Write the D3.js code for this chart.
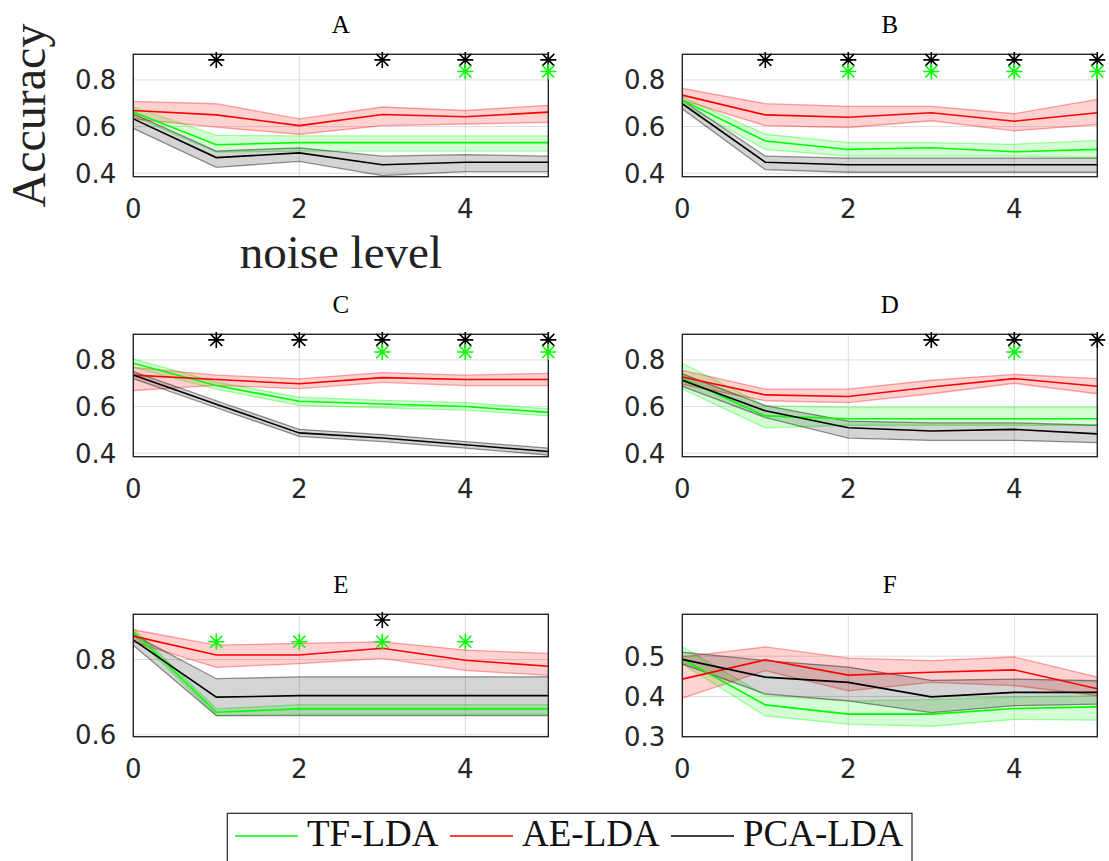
<!DOCTYPE html>
<html>
<head>
<meta charset="utf-8">
<script src="https://cdn.jsdelivr.net/npm/d3@7"></script>
<style>
  html, body { margin: 0; padding: 0; background: #fff; }
  svg { display: block; }
</style>
</head>
<body>
<svg id="chart" width="1109" height="861"></svg>
<script>
// ---------------- DATA ----------------
const noiseLevels = [0, 1, 2, 3, 4, 5];
const panelTitles = ["A", "B", "C", "D", "E", "F"];
const seriesNames = ["TF-LDA", "AE-LDA", "PCA-LDA"];
const xTicks = [0, 2, 4];
const yDomains = [[0.385, 0.91], [0.385, 0.91], [0.385, 0.91], [0.385, 0.91], [0.595, 0.92], [0.3, 0.604]];
const yTicks = [[0.4, 0.6, 0.8], [0.4, 0.6, 0.8], [0.4, 0.6, 0.8], [0.4, 0.6, 0.8], [0.6, 0.8], [0.3, 0.4, 0.5]];

// TF-LDA (green)
const tfMean = [
  [0.662, 0.522, 0.531, 0.531, 0.531, 0.531],
  [0.713, 0.538, 0.502, 0.509, 0.492, 0.502],
  [0.786, 0.690, 0.623, 0.611, 0.600, 0.575],
  [0.720, 0.560, 0.548, 0.548, 0.548, 0.548],
  [0.874, 0.660, 0.669, 0.669, 0.669, 0.669],
  [0.493, 0.379, 0.356, 0.356, 0.370, 0.374]
];
const tfLow = [
  [0.645, 0.490, 0.495, 0.495, 0.495, 0.495],
  [0.698, 0.502, 0.473, 0.473, 0.473, 0.468],
  [0.768, 0.675, 0.605, 0.595, 0.585, 0.560],
  [0.676, 0.509, 0.520, 0.520, 0.520, 0.520],
  [0.865, 0.651, 0.654, 0.654, 0.654, 0.654],
  [0.481, 0.352, 0.331, 0.326, 0.343, 0.341]
];
const tfHigh = [
  [0.685, 0.562, 0.560, 0.560, 0.560, 0.560],
  [0.727, 0.567, 0.531, 0.531, 0.524, 0.541],
  [0.805, 0.705, 0.640, 0.627, 0.617, 0.590],
  [0.786, 0.604, 0.596, 0.596, 0.596, 0.596],
  [0.883, 0.669, 0.680, 0.680, 0.680, 0.680],
  [0.523, 0.402, 0.389, 0.392, 0.399, 0.402]
];
// AE-LDA (red)
const aeMean = [
  [0.669, 0.650, 0.604, 0.652, 0.642, 0.662],
  [0.735, 0.650, 0.640, 0.659, 0.623, 0.659],
  [0.735, 0.716, 0.698, 0.724, 0.716, 0.716],
  [0.727, 0.650, 0.643, 0.684, 0.720, 0.687],
  [0.862, 0.812, 0.812, 0.830, 0.798, 0.782],
  [0.443, 0.491, 0.453, 0.460, 0.466, 0.419]
];
const aeLow = [
  [0.633, 0.598, 0.567, 0.604, 0.611, 0.618],
  [0.713, 0.604, 0.596, 0.625, 0.582, 0.608],
  [0.669, 0.691, 0.677, 0.704, 0.690, 0.690],
  [0.695, 0.625, 0.617, 0.655, 0.700, 0.655],
  [0.847, 0.779, 0.789, 0.803, 0.771, 0.758],
  [0.396, 0.464, 0.414, 0.435, 0.427, 0.402]
];
const aeHigh = [
  [0.708, 0.698, 0.633, 0.684, 0.669, 0.691],
  [0.764, 0.698, 0.687, 0.687, 0.655, 0.717],
  [0.768, 0.735, 0.719, 0.746, 0.735, 0.742],
  [0.755, 0.675, 0.675, 0.713, 0.738, 0.720],
  [0.879, 0.838, 0.843, 0.847, 0.825, 0.816],
  [0.498, 0.523, 0.495, 0.489, 0.498, 0.448]
];
// PCA-LDA (black)
const pcaMean = [
  [0.633, 0.467, 0.487, 0.436, 0.447, 0.447],
  [0.698, 0.447, 0.436, 0.436, 0.436, 0.436],
  [0.735, 0.610, 0.487, 0.465, 0.436, 0.407],
  [0.713, 0.582, 0.509, 0.495, 0.502, 0.483],
  [0.852, 0.700, 0.704, 0.704, 0.704, 0.704],
  [0.492, 0.448, 0.435, 0.399, 0.410, 0.410]
];
const pcaLow = [
  [0.592, 0.425, 0.451, 0.390, 0.407, 0.407],
  [0.676, 0.415, 0.404, 0.404, 0.404, 0.404],
  [0.720, 0.595, 0.472, 0.450, 0.422, 0.392],
  [0.687, 0.553, 0.465, 0.455, 0.455, 0.445],
  [0.838, 0.651, 0.651, 0.651, 0.651, 0.651],
  [0.481, 0.406, 0.389, 0.360, 0.377, 0.381]
];
const pcaHigh = [
  [0.655, 0.495, 0.509, 0.473, 0.480, 0.473],
  [0.713, 0.473, 0.465, 0.465, 0.465, 0.465],
  [0.750, 0.625, 0.502, 0.480, 0.450, 0.422],
  [0.740, 0.604, 0.538, 0.530, 0.530, 0.520],
  [0.866, 0.749, 0.754, 0.754, 0.754, 0.754],
  [0.510, 0.489, 0.473, 0.440, 0.443, 0.439]
];
// significance markers (noise levels) and their heights
const starsBlack = [[1, 3, 4, 5], [1, 2, 3, 4, 5], [1, 2, 3, 4, 5], [3, 4, 5], [3], []];
const starsGreen = [[4, 5], [2, 3, 4, 5], [3, 4, 5], [4], [1, 2, 3, 4], []];
const starBlackLevel = [0.886, 0.886, 0.886, 0.886, 0.905, 0.5];
const starGreenLevel = [0.836, 0.836, 0.834, 0.834, 0.847, 0.5];

// ---------------- STYLE / LAYOUT ----------------
const colors = ["#00ff00", "#ff0000", "#000000"];
const bandFill = ["rgba(0,255,0,0.17)", "rgba(255,0,0,0.18)", "rgba(0,0,0,0.17)"];
const bandEdge = ["rgba(0,255,0,0.35)", "rgba(255,0,0,0.35)", "rgba(0,0,0,0.42)"];
const colLeft = [133.3, 682.3];
const rowTop = [54.3, 334.3, 614.3];
const pw = 415, ph = 122.4;
const axisColor = "#262626";
const sansFont = "'DejaVu Sans', sans-serif";
const serifFont = "'Liberation Serif', 'Times New Roman', serif";

const svg = d3.select("#chart");

const seriesData = [
  [tfMean, tfLow, tfHigh],
  [aeMean, aeLow, aeHigh],
  [pcaMean, pcaLow, pcaHigh]
];

function drawStar(g, cx, cy, color) {
  const r = 8, d = 6;
  const path = `M${cx - r},${cy}L${cx + r},${cy}M${cx},${cy - r}L${cx},${cy + r}` +
    `M${cx - d},${cy - d}L${cx + d},${cy + d}M${cx - d},${cy + d}L${cx + d},${cy - d}`;
  g.append("path").attr("d", path).attr("stroke", color).attr("stroke-width", 1.6).attr("fill", "none");
}

panelTitles.forEach((title, p) => {
  const col = p % 2, row = Math.floor(p / 2);
  const left = colLeft[col], top = rowTop[row];
  const g = svg.append("g").attr("transform", `translate(${left},${top})`);
  const x = d3.scaleLinear().domain([0, 5]).range([0, pw]);
  const y = d3.scaleLinear().domain(yDomains[p]).range([ph, 0]);

  // grid
  g.append("g").selectAll("line.gx").data(xTicks).join("line")
    .attr("x1", d => x(d)).attr("x2", d => x(d)).attr("y1", 0).attr("y2", ph)
    .attr("stroke", "#dcdcdc").attr("stroke-width", 1);
  g.append("g").selectAll("line.gy").data(yTicks[p]).join("line")
    .attr("x1", 0).attr("x2", pw).attr("y1", d => y(d)).attr("y2", d => y(d))
    .attr("stroke", "#dcdcdc").attr("stroke-width", 1);

  // bands
  const area = d3.area().x((d, i) => x(noiseLevels[i])).y0(d => y(d[0])).y1(d => y(d[1]));
  const line = d3.line().x((d, i) => x(noiseLevels[i])).y(d => y(d));
  seriesData.forEach((s, k) => {
    const lo = s[1][p], hi = s[2][p];
    const band = lo.map((v, i) => [v, hi[i]]);
    g.append("path").attr("d", area(band)).attr("fill", bandFill[k]).attr("stroke", "none");
    g.append("path").attr("d", line(lo)).attr("fill", "none").attr("stroke", bandEdge[k]).attr("stroke-width", 1.3);
    g.append("path").attr("d", line(hi)).attr("fill", "none").attr("stroke", bandEdge[k]).attr("stroke-width", 1.3);
  });
  seriesData.forEach((s, k) => {
    g.append("path").attr("d", line(s[0][p])).attr("fill", "none")
      .attr("stroke", colors[k]).attr("stroke-width", 1.6);
  });

  // box
  g.append("rect").attr("x", 0).attr("y", 0).attr("width", pw).attr("height", ph)
    .attr("fill", "none").attr("stroke", axisColor).attr("stroke-width", 1.4);

  // stars
  starsBlack[p].forEach(n => drawStar(g, x(n), y(starBlackLevel[p]), "#000"));
  starsGreen[p].forEach(n => drawStar(g, x(n), y(starGreenLevel[p]), "#00ff00"));

  // tick labels
  const fmt = d3.format(".1f");
  g.append("g").selectAll("text").data(yTicks[p]).join("text")
    .attr("x", -17).attr("y", d => y(d)).attr("dy", "0.36em")
    .attr("text-anchor", "end").attr("font-family", sansFont).attr("font-size", 26)
    .attr("fill", axisColor).text(d => fmt(d));
  g.append("g").selectAll("text").data(xTicks).join("text")
    .attr("x", d => x(d)).attr("y", ph + 41)
    .attr("text-anchor", "middle").attr("font-family", sansFont).attr("font-size", 26)
    .attr("fill", axisColor).text(d => d);

  // title
  g.append("text").attr("x", pw / 2).attr("y", -21).attr("text-anchor", "middle")
    .attr("font-family", serifFont).attr("font-size", 25).attr("fill", "#000").text(title);

  if (p === 0) {
    g.append("text").attr("x", pw / 2).attr("y", ph + 91).attr("text-anchor", "middle")
      .attr("font-family", serifFont).attr("font-size", 47).attr("fill", "#222").text("noise level");
    g.append("text").attr("transform", `translate(${44.6 - left},${ph / 2}) rotate(-90)`)
      .attr("text-anchor", "middle").attr("font-family", serifFont).attr("font-size", 48)
      .attr("fill", "#222").text("Accuracy");
  }
});

// legend
const legend = svg.append("g");
legend.append("rect").attr("x", 227.3).attr("y", 813.3).attr("width", 684.7).attr("height", 70)
  .attr("fill", "#fff").attr("stroke", axisColor).attr("stroke-width", 1.2);
const legendLineX = [235, 450, 671];
seriesNames.forEach((name, k) => {
  const lx = legendLineX[k];
  legend.append("line").attr("x1", lx).attr("x2", lx + 63).attr("y1", 836).attr("y2", 836)
    .attr("stroke", colors[k]).attr("stroke-width", 1.6);
  legend.append("text").attr("x", lx + 72).attr("y", 845.7)
    .attr("font-family", serifFont).attr("font-size", 37).attr("fill", "#111").text(name);
});
</script>
</body>
</html>
